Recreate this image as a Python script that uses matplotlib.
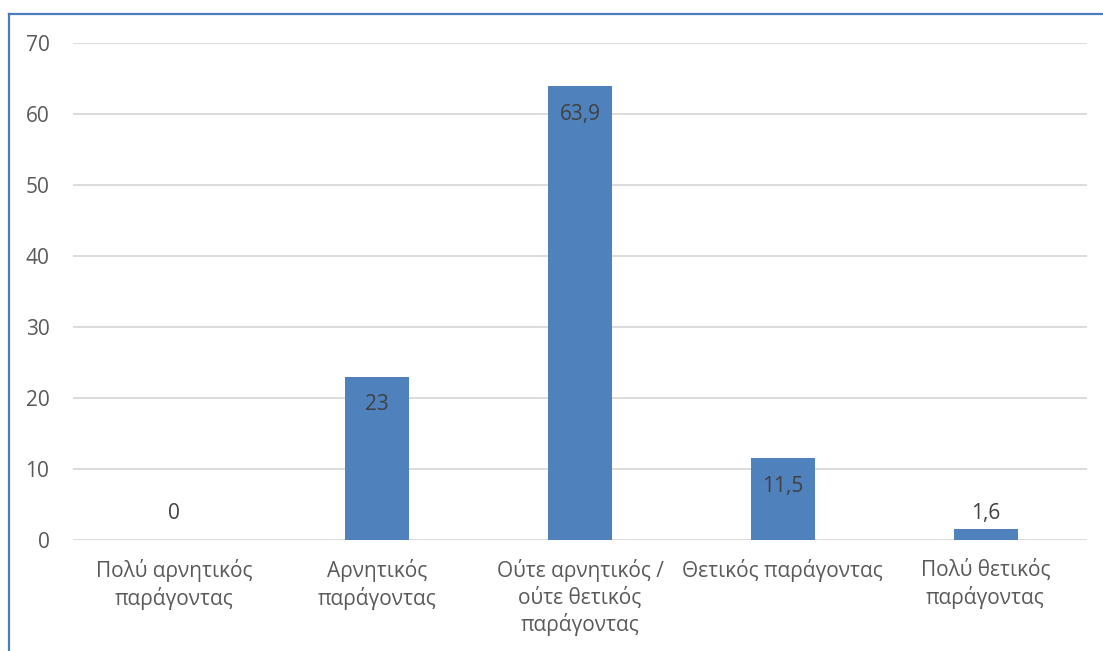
import matplotlib
matplotlib.use("Agg")
import matplotlib.pyplot as plt
from matplotlib.lines import Line2D
import numpy as np

categories = ["Πολύ αρνητικός\nπαράγοντας", "Αρνητικός\nπαράγοντας",
              "Ούτε αρνητικός /\nούτε θετικός\nπαράγοντας", "Θετικός παράγοντας",
              "Πολύ θετικός\nπαράγοντας"]
values = [0, 23, 63.9, 11.5, 1.6]
value_labels = ["0", "23", "63,9", "11,5", "1,6"]
yticks = [0, 10, 20, 30, 40, 50, 60, 70]

plt.rcParams['font.family'] = ['Open Sans', 'DejaVu Sans']

fig = plt.figure(figsize=(11.03, 6.51), dpi=100)
ax = fig.add_axes([0.0662, 0.1705, 0.9193, 0.7635])

x = np.arange(len(categories))
ax.bar(x, values, width=0.315, color="#4F81BD", zorder=3)

ax.set_xlim(-0.5, len(categories) - 0.5)
ax.set_ylim(0, 70)
ax.set_yticks(yticks)
ax.set_yticklabels([str(t) for t in yticks])
ax.set_xticks(x)
ax.set_xticklabels(categories, linespacing=1.25)
ax.tick_params(axis='both', length=0, labelsize=15, labelcolor="#595959")
ax.tick_params(axis='y', pad=17)
ax.tick_params(axis='x', pad=14)
ax.grid(axis='y', color="#D9D9D9", linewidth=1.3, zorder=0)
for s in ax.spines.values():
    s.set_visible(False)

for xi, v, lab in zip(x, values, value_labels):
    if v < 5:
        ax.annotate(lab, (xi, 0), xytext=(0, 19), textcoords="offset points",
                    ha="center", va="center", fontsize=15, color="#404040")
    else:
        ax.annotate(lab, (xi, v), xytext=(0, -20), textcoords="offset points",
                    ha="center", va="center", fontsize=15, color="#404040")

# outer chart frame (left and top edges visible)
fig.add_artist(Line2D([9 / 1103, 9 / 1103], [0, 1 - 14 / 651], color="#4A7EBB",
                      linewidth=1.6, transform=fig.transFigure))
fig.add_artist(Line2D([9 / 1103, 1], [1 - 14 / 651, 1 - 14 / 651], color="#4A7EBB",
                      linewidth=1.6, transform=fig.transFigure))

fig.savefig("out.png", dpi=100)
